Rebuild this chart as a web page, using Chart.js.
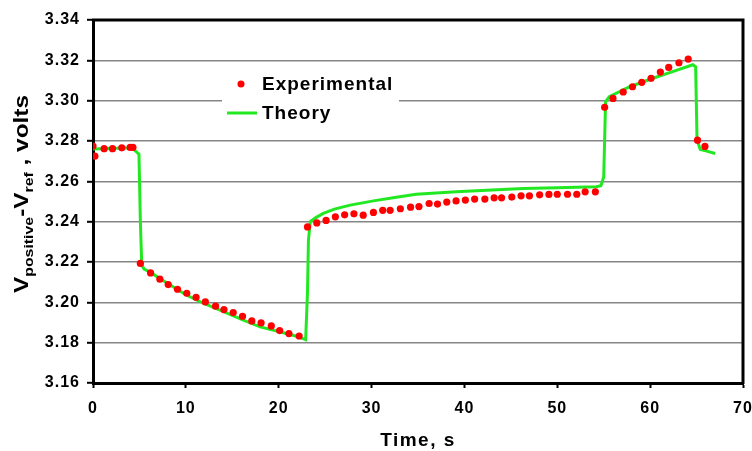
<!DOCTYPE html>
<html>
<head>
<meta charset="utf-8">
<script src="https://cdn.jsdelivr.net/npm/chart.js@4/dist/chart.umd.min.js"></script>
<style>
    html, body { margin: 0; padding: 0; background: #fff; }
    #wrap { width: 752px; height: 451px; }
</style>
</head>
<body>
<div id="wrap"><canvas id="chart"></canvas></div>
<script>
// experimental points (time in s, voltage in V)
const expTime = [0, 0.2, 1.2, 2.1, 3.1, 4.0, 4.3,
    5.1, 6.2, 7.2, 8.1, 9.1, 10.1, 11.1, 12.1, 13.2, 14.1, 15.1, 16.1, 17.1, 18.1, 19.2, 20.1, 21.1, 22.2,
    23.1, 24.1, 25.1, 26.1, 27.1, 28.1, 29.1, 30.2, 31.2, 32.0, 33.1, 34.2, 35.1, 36.2, 37.1, 38.1,
    39.1, 40.1, 41.1, 42.2, 43.2, 44.0, 45.1, 46.1, 47.0, 48.1, 49.1, 50.0, 51.1, 52.1, 53.0, 54.1,
    55.1, 56.0, 57.1, 58.1, 59.1, 60.1, 61.1, 62.0, 63.1, 64.1, 65.1, 65.9];
const expVolt = [3.2775, 3.2725, 3.2762, 3.2762, 3.2766, 3.2768, 3.2768,
    3.2193, 3.2146, 3.2115, 3.2088, 3.2065, 3.2045, 3.2025, 3.2002, 3.1981, 3.1964, 3.1949, 3.1931, 3.1908, 3.1898, 3.1883, 3.1860, 3.1845, 3.1833,
    3.2374, 3.2394, 3.2406, 3.2424, 3.2434, 3.2439, 3.2432, 3.2446, 3.2456, 3.2456, 3.2464, 3.2472, 3.2475, 3.2490, 3.2487, 3.2497,
    3.2503, 3.2507, 3.2512, 3.2512, 3.2518, 3.2518, 3.2522, 3.2528, 3.2528, 3.2533, 3.2535, 3.2536, 3.2536, 3.2536, 3.2548, 3.2548,
    3.2967, 3.3011, 3.3043, 3.3069, 3.3091, 3.3111, 3.3142, 3.3165, 3.3188, 3.3206, 3.2804, 3.2773];

// theory curve
const theoryTime = [0, 4.2, 4.95, 5.1, 5.25, 5.5, 6.1, 8, 10.1, 12, 14, 16, 18, 20, 21.9, 22.9,
    23.1, 23.2, 23.4, 24, 24.8, 26, 27.7, 30.2, 32.5, 34.8, 39.1, 46.3, 50, 54.2, 54.7,
    55.0, 55.2, 55.6, 57.8, 60.3, 62.5, 64.6, 64.9,
    65.05, 65.4, 66.0, 67.0];
const theoryVolt = [3.2760, 3.2766, 3.2735, 3.2400, 3.2185, 3.2165, 3.2151, 3.2095, 3.2035, 3.1993, 3.1955, 3.1915, 3.1878, 3.1855, 3.1832, 3.1815,
    3.2050, 3.2308, 3.2400, 3.2420, 3.2441, 3.2462, 3.2482, 3.2503, 3.2520, 3.2536, 3.2548, 3.2564, 3.2568, 3.2573, 3.2578,
    3.2622, 3.2995, 3.3020, 3.3069, 3.3111, 3.3145, 3.3178, 3.3168,
    3.2804, 3.2758, 3.2751, 3.2738];

const xTicks = [0, 10, 20, 30, 40, 50, 60, 70];
const yTicks = [3.16, 3.18, 3.20, 3.22, 3.24, 3.26, 3.28, 3.30, 3.32, 3.34];

const seriesNames = ['Experimental', 'Theory'];
const RED = '#ff0000';
const GREEN = '#22e822';
const FONT = '"Liberation Sans", Arial, sans-serif';

const toPoints = (xs, ys) => xs.map((x, i) => ({ x: x, y: ys[i] }));

// frame, legend box and axis titles
const decorations = {
    id: 'decorations',
    beforeDraw(chart) {
        chart.ctx.letterSpacing = '1px';
    },
    afterDraw(chart) {
        const ctx = chart.ctx;
        const a = chart.chartArea;
        ctx.save();
        ctx.letterSpacing = '0px';
        // top and right frame
        ctx.strokeStyle = '#000';
        ctx.lineWidth = 3;
        ctx.beginPath();
        ctx.moveTo(a.left - 1, a.top);
        ctx.lineTo(a.right, a.top);
        ctx.lineTo(a.right, a.bottom + 1);
        ctx.stroke();

        // legend
        ctx.fillStyle = '#fff';
        ctx.fillRect(222, 70, 177, 58);
        ctx.fillStyle = RED;
        ctx.beginPath();
        ctx.arc(241, 84, 3.5, 0, Math.PI * 2);
        ctx.fill();
        ctx.strokeStyle = GREEN;
        ctx.lineWidth = 3;
        ctx.beginPath();
        ctx.moveTo(227, 113);
        ctx.lineTo(257, 113);
        ctx.stroke();
        ctx.fillStyle = '#000';
        ctx.font = 'bold 19px ' + FONT;
        ctx.letterSpacing = '1px';
        ctx.textBaseline = 'middle';
        ctx.textAlign = 'left';
        ctx.fillText(seriesNames[0], 262, 85);
        ctx.fillText(seriesNames[1], 262, 114);

        // x title
        ctx.font = 'bold 19px ' + FONT;
        ctx.textAlign = 'center';
        ctx.letterSpacing = '1.5px';
        ctx.fillText('Time, s', 418, 441);

        // y title with subscripts, rotated
        ctx.letterSpacing = '0px';
        const parts = [
            { t: 'V', sub: false },
            { t: 'positive', sub: true },
            { t: '-V', sub: false },
            { t: 'ref', sub: true },
            { t: ' , volts', sub: false }
        ];
        const big = 'bold 20px ' + FONT;
        const small = 'bold 13px ' + FONT;
        let total = 0;
        parts.forEach(p => {
            ctx.font = p.sub ? small : big;
            p.w = ctx.measureText(p.t).width;
            total += p.w;
        });
        const span = 198;
        ctx.translate(28, 293);
        ctx.rotate(-Math.PI / 2);
        ctx.scale(span / total, 1);
        ctx.textAlign = 'left';
        ctx.textBaseline = 'alphabetic';
        let pos = 0;
        parts.forEach(p => {
            ctx.font = p.sub ? small : big;
            ctx.fillText(p.t, pos, p.sub ? 5 : 0);
            pos += p.w;
        });
        ctx.restore();
    }
};

new Chart(document.getElementById('chart'), {
    type: 'scatter',
    data: {
        datasets: [{
            label: seriesNames[0],
            data: toPoints(expTime, expVolt),
            showLine: false,
            pointRadius: 3.6,
            pointBackgroundColor: RED,
            pointBorderWidth: 0,
            backgroundColor: RED
        }, {
            label: seriesNames[1],
            data: toPoints(theoryTime, theoryVolt),
            showLine: true,
            borderColor: GREEN,
            borderWidth: 3,
            tension: 0,
            pointRadius: 0,
            fill: false
        }]
    },
    options: {
        responsive: true,
        maintainAspectRatio: false,
        animation: false,
        layout: { padding: { top: 20, right: 9, left: 0, bottom: 0 } },
        plugins: {
            legend: { display: false },
            tooltip: { enabled: false }
        },
        scales: {
            x: {
                type: 'linear',
                min: 0,
                max: 70,
                afterBuildTicks: (scale) => { scale.ticks = xTicks.map(v => ({ value: v })); },
                afterFit: (scale) => {
                    scale.height = 68;
                    scale.paddingLeft = 0;
                    scale.paddingRight = 0;
                },
                grid: {
                    drawOnChartArea: false,
                    drawTicks: true,
                    tickLength: 5,
                    tickWidth: 2,
                    tickColor: '#000'
                },
                border: { color: '#000', width: 3 },
                ticks: {
                    padding: 11,
                    color: '#000',
                    font: { family: FONT, size: 16, weight: 'bold' },
                    maxRotation: 0
                }
            },
            y: {
                type: 'linear',
                min: 3.16,
                max: 3.34,
                afterBuildTicks: (scale) => { scale.ticks = yTicks.map(v => ({ value: v })); },
                afterFit: (scale) => { scale.width = 93; },
                grid: {
                    color: '#858585',
                    lineWidth: 1.6,
                    drawTicks: true,
                    tickLength: 6,
                    tickWidth: 2,
                    tickColor: '#000'
                },
                border: { color: '#000', width: 3 },
                ticks: {
                    padding: 7,
                    color: '#000',
                    font: { family: FONT, size: 16, weight: 'bold' },
                    callback: (v) => v.toFixed(2)
                }
            }
        }
    },
    plugins: [decorations]
});
</script>
</body>
</html>
